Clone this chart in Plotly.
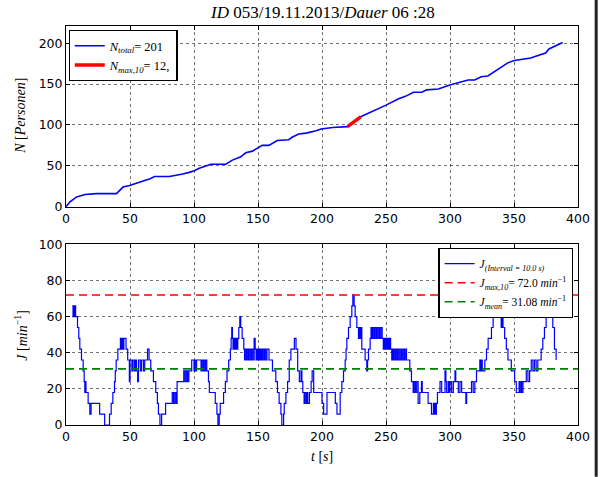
import plotly.graph_objects as go

# ---- data ----
N_t = [0, 3.1, 8.3, 14.8, 23.8, 39.4, 42, 44.5, 49.7, 54.9, 61.4, 65.3, 69.2, 80.8, 84.7, 91.2,
       96.3, 100.2, 104.1, 109.3, 113.2, 124.8, 130, 136.5, 140.4, 145.6, 150.7, 153.3, 158.5,
       165, 174, 176.6, 181.8, 187.6, 195.4, 199.2, 208.3, 219.9, 230.2, 241.8, 249.6, 259.9,
       265.1, 271.5, 278, 281.8, 290.9, 299.9, 306.4, 314.1, 319.3, 324.4, 329.6, 337.3, 345.1,
       350.2, 355.4, 363.1, 367, 370.9, 374.7, 377.3, 386.4, 388]
N_val = [0, 6, 12, 15, 16, 16, 20, 24, 26, 29, 32, 34, 37, 37, 38, 40,
         42, 44, 47, 50, 52, 52, 57, 61, 66, 68, 73, 75, 75,
         81, 82, 85, 89, 90, 93, 95, 97, 98, 110, 118, 124, 132,
         135, 140, 140, 143, 144, 149, 152, 155, 155, 159, 160, 168, 176,
         179, 180, 182, 184, 186, 188, 193, 199, 201]

Nmax_t = [219.9, 230.2]
Nmax_val = [98, 110]

J_pairs_t = [4.9, 5.5, 6.0, 6.5, 7.0, 7.5, 9.0, 10.0, 10.8, 12.1, 13.4, 14.2, 14.7, 15.2, 15.6, 17.3, 18.6, 19.6, 26.3, 30.2,
    34.0, 35.3, 36.6, 37.9, 38.5, 39.2, 40.5, 42.5, 43.3, 44.0, 44.6, 45.2, 46.9, 48.2, 49.5, 50.0, 51.5, 52.3, 53.5, 54.2,
    55.0, 56.0, 56.6, 58.0, 59.0, 60.5, 61.5, 63.7, 64.9, 66.2, 68.3, 70.1, 71.4, 72.2, 73.4, 74.7, 77.8, 83.0, 84.0, 85.0,
    86.0, 86.8, 92.0, 93.0, 94.0, 95.0, 96.0, 98.2, 100.0, 100.5, 101.5, 102.0, 105.5, 106.0, 107.0, 107.5, 108.5, 109.0, 110.0, 111.3,
    112.0, 116.6, 117.9, 118.7, 119.7, 120.5, 123.1, 124.5, 125.8, 127.1, 128.4, 129.0, 129.5, 130.0, 130.5, 131.0, 131.5, 132.0, 132.5, 133.0,
    133.5, 134.2, 135.0, 135.8, 136.5, 137.6, 138.9, 139.5, 140.0, 141.0, 141.5, 142.5, 143.0, 144.0, 145.0, 146.0, 147.0, 147.8, 148.5, 149.4,
    150.0, 150.8, 151.5, 152.1, 153.0, 153.5, 154.5, 155.0, 156.0, 157.0, 158.6, 161.3, 163.9, 165.2, 166.5, 167.9, 168.6, 170.0, 170.5, 171.8,
    173.1, 174.4, 175.7, 178.4, 179.7, 181.0, 182.3, 183.6, 184.3, 185.0, 186.0, 186.5, 187.5, 188.0, 188.9, 190.2, 191.5, 192.3, 193.5, 200.0,
    201.3, 203.9, 210.4, 211.7, 214.2, 215.5, 216.8, 218.1, 218.8, 219.4, 220.7, 222.0, 223.3, 224.1, 225.1, 225.9, 227.2, 228.5, 229.0, 229.6,
    230.2, 231.1, 233.7, 235.0, 235.6, 236.3, 237.6, 238.3, 239.0, 239.5, 240.5, 241.0, 242.0, 242.5, 243.5, 244.0, 245.0, 246.0, 247.0, 247.9,
    248.5, 249.2, 250.0, 250.9, 251.5, 252.2, 253.0, 253.6, 254.5, 255.0, 255.7, 256.5, 257.5, 258.0, 259.0, 260.0, 261.0, 262.0, 262.5, 263.5,
    264.5, 265.5, 266.0, 268.6, 269.9, 271.2, 272.0, 273.0, 274.0, 275.1, 276.4, 277.7, 278.3, 282.9, 285.5, 287.0, 287.5, 288.3, 288.8, 289.4,
    290.2, 292.2, 293.5, 296.1, 296.8, 297.4, 298.7, 299.5, 300.0, 301.3, 302.6, 303.9, 304.5, 306.5, 307.8, 309.1, 312.4, 313.0, 316.8, 318.1,
    319.4, 320.7, 323.3, 324.0, 324.6, 325.2, 327.2, 328.5, 329.8, 332.4, 333.7, 334.5, 335.3, 336.0, 337.0, 338.0, 339.0, 340.0, 340.7, 341.4,
    342.7, 344.0, 345.3, 347.9, 350.5, 351.8, 354.0, 354.5, 355.5, 356.0, 357.0, 359.6, 360.9, 362.2, 363.5, 364.8, 366.0, 367.3, 368.6, 371.2,
    372.5, 373.8, 375.1, 376.0, 376.8, 377.5, 378.3, 379.0, 379.6, 380.3, 381.6, 382.9]
J_val = [66, 60, 66, 60, 66, 60, 54, 48, 42, 36, 30, 24, 18, 24, 18, 12, 6, 12, 6, 0,
    6, 12, 18, 24, 30, 36, 42, 48, 42, 48, 42, 48, 42, 36, 24, 36, 30, 36, 30, 36,
    30, 24, 36, 30, 36, 30, 36, 42, 36, 30, 24, 18, 12, 6, 0, 6, 12, 18, 12, 18,
    12, 24, 30, 24, 30, 24, 30, 36, 30, 36, 30, 36, 30, 36, 30, 36, 30, 36, 30, 24,
    18, 12, 6, 0, 6, 12, 18, 24, 30, 36, 42, 48, 54, 48, 42, 48, 42, 48, 42, 48,
    42, 48, 54, 60, 54, 48, 42, 36, 42, 36, 42, 36, 42, 36, 42, 36, 48, 42, 36, 42,
    36, 42, 36, 42, 36, 42, 36, 42, 36, 42, 36, 30, 24, 18, 12, 6, 0, 6, 12, 18,
    24, 36, 42, 48, 42, 30, 24, 30, 24, 18, 12, 18, 12, 18, 12, 18, 24, 30, 18, 12,
    6, 18, 12, 6, 18, 24, 30, 36, 42, 48, 54, 60, 66, 72, 66, 60, 54, 48, 54, 48,
    54, 42, 36, 30, 36, 42, 48, 54, 48, 54, 48, 54, 48, 54, 48, 54, 48, 54, 48, 42,
    48, 42, 48, 42, 48, 42, 48, 42, 36, 42, 36, 42, 36, 42, 36, 42, 36, 42, 36, 42,
    36, 42, 36, 30, 24, 18, 24, 18, 24, 12, 18, 24, 18, 12, 6, 12, 6, 12, 6, 12,
    18, 24, 18, 30, 24, 18, 24, 18, 24, 18, 24, 30, 24, 18, 24, 18, 12, 18, 24, 18,
    24, 30, 36, 30, 36, 30, 36, 42, 48, 54, 60, 66, 60, 66, 60, 66, 60, 54, 60, 54,
    48, 42, 36, 30, 24, 18, 24, 18, 24, 18, 24, 30, 24, 30, 36, 30, 36, 30, 36, 42,
    48, 54, 60, 66, 60, 66, 60, 66, 60, 54, 42, 36]

J_max = 72.0
J_mean = 31.08
x_ticks = [0, 50, 100, 150, 200, 250, 300, 350, 400]

SERIF = "Liberation Serif"
SANS = "DejaVu Sans"

fig = go.Figure()
fig.add_trace(go.Scatter(x=N_t, y=N_val, mode="lines", line=dict(color="#0000ff", width=1.6),
                         name="<i>N</i><sub><i>total</i></sub>= 201", xaxis="x", yaxis="y", legend="legend"))
fig.add_trace(go.Scatter(x=Nmax_t, y=Nmax_val, mode="lines", line=dict(color="#ff0000", width=3.5),
                         name="<i>N</i><sub><i>max,10</i></sub>= 12,", xaxis="x", yaxis="y", legend="legend"))
fig.add_trace(go.Scatter(x=J_pairs_t, y=J_val, mode="lines", line=dict(color="#0000ff", width=1.2, shape="hv"),
                         name="<i>J</i><sub><i>(Interval = 10.0 s)</i></sub>", xaxis="x2", yaxis="y2", legend="legend2"))
fig.add_trace(go.Scatter(x=[0, 400], y=[J_max, J_max], mode="lines",
                         line=dict(color="#ff0000", width=1.6, dash="8px,5px"),
                         name="<i>J</i><sub><i>max,10</i></sub>= 72.0 <i>min</i><sup>−1</sup>",
                         xaxis="x2", yaxis="y2", legend="legend2"))
fig.add_trace(go.Scatter(x=[0, 400], y=[J_mean, J_mean], mode="lines",
                         line=dict(color="#008000", width=1.6, dash="8px,5px"),
                         name="<i>J</i><sub><i>mean</i></sub>= 31.08 <i>min</i><sup>−1</sup>",
                         xaxis="x2", yaxis="y2", legend="legend2"))

axis_common = dict(showline=True, linecolor="black", linewidth=1, mirror="ticks", ticks="inside",
                   ticklen=4, tickcolor="black", showgrid=True, gridcolor="rgba(0,0,0,0.55)",
                   griddash="dot", gridwidth=1, zeroline=False,
                   tickfont=dict(family=SANS, size=12.5, color="black"))

fig.update_layout(
    width=602, height=477,
    margin=dict(l=65.5, r=21.5, t=26, b=52),
    paper_bgcolor="white", plot_bgcolor="white",
    showlegend=True,
    title=dict(text="<i>ID</i> 053/19.11.2013/<i>Dauer</i> 06 :28", x=(65.5 + 290) / 602 * 1.0 if False else 0.5365,
               xanchor="center", y=0.975, yanchor="middle",
               font=dict(family=SERIF, size=17, color="black")),
    xaxis=dict(domain=[0, 1], range=[0, 400], tickvals=x_ticks, anchor="y", **axis_common),
    yaxis=dict(domain=[0.5471, 1], range=[0, 221.1], tickvals=[0, 50, 100, 150, 200], anchor="x", **axis_common),
    xaxis2=dict(domain=[0, 1], range=[0, 400], tickvals=x_ticks, anchor="y2", **axis_common),
    yaxis2=dict(domain=[0, 0.4526], range=[0, 100], tickvals=[0, 20, 40, 60, 80, 100], anchor="x2", **axis_common),
    legend=dict(x=0.005, y=0.99, xanchor="left", yanchor="top", bgcolor="white",
                bordercolor="black", borderwidth=1.2, itemwidth=30,
                font=dict(family=SERIF, size=12.5, color="black"), tracegroupgap=2),
    legend2=dict(x=0.991, y=0.4436, xanchor="right", yanchor="top", bgcolor="white",
                 bordercolor="black", borderwidth=1.2, itemwidth=30,
                 font=dict(family=SERIF, size=11.5, color="black")),
    annotations=[
        dict(text="<i>N</i> [<i>Personen</i>]", xref="paper", yref="paper", x=-0.088, y=0.775,
             textangle=-90, showarrow=False, xanchor="center", yanchor="middle",
             font=dict(family=SERIF, size=14, color="black")),
        dict(text="<i>J</i> [<i>min</i><sup>−1</sup>]", xref="paper", yref="paper", x=-0.088, y=0.2263,
             textangle=-90, showarrow=False, xanchor="center", yanchor="middle",
             font=dict(family=SERIF, size=14, color="black")),
        dict(text="<i>t</i> [<i>s</i>]", xref="paper", yref="paper", x=0.5, y=-0.08,
             showarrow=False, xanchor="center", yanchor="middle",
             font=dict(family=SERIF, size=14, color="black")),
    ],
    shapes=[dict(type="line", xref="paper", yref="paper", x0=1.0355, x1=1.0355, y0=-0.13, y1=1.065,
                 line=dict(color="#222", width=3))],
)

fig.write_html("out.html")
